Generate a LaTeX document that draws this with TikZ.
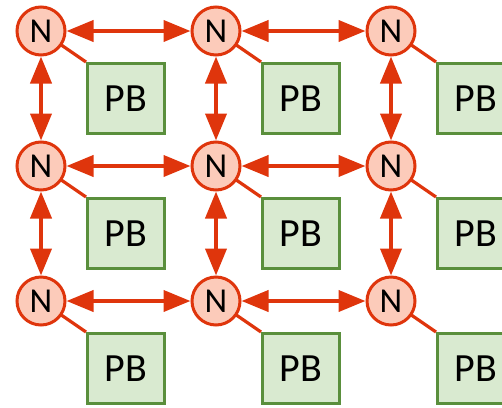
\documentclass[tikz,border=0pt]{standalone}
\usepackage{fontspec}
\setmainfont{Carlito}
\usetikzlibrary{arrows.meta}
\definecolor{linkred}{HTML}{DF350C}
\definecolor{nodefill}{HTML}{FCCBBA}
\definecolor{pbfill}{HTML}{D9EAD0}
\definecolor{pbdraw}{HTML}{5A8F3C}
\tikzset{
  router/.style={circle, draw=linkred, fill=nodefill, line width=3pt,
    minimum size=48pt, inner sep=0pt, font=\fontsize{35}{35}\selectfont},
  pbbox/.style={rectangle, draw=pbdraw, fill=pbfill, line width=3pt,
    minimum width=77pt, minimum height=70pt, inner sep=0pt,
    font=\fontsize{40}{40}\selectfont},
  link/.style={draw=linkred, line width=4pt,
    {Triangle[length=27pt,width=21pt]}-{Triangle[length=27pt,width=21pt]}},
  tie/.style={draw=linkred, line width=3.2pt}
}
\begin{document}
\begin{tikzpicture}[x=1pt,y=-1pt]
  \useasboundingbox (0,0) rectangle (502,407);
  % mesh of routers, each with its processing block
  \foreach \c/\x in {0/41,1/216,2/391}{
    \foreach \r/\y in {0/31,1/166,2/301}{
      \node[pbbox] (pb\c\r) at (\x+85,\y+67.5) {PB};
      \draw[tie] (\x,\y) ++(-34.6:24pt) -- (pb\c\r.north west);
      \node[router] (n\c\r) at (\x,\y) {N};
    }
  }
  % horizontal links
  \foreach \r in {0,1,2}{
    \draw[link] (n0\r) -- (n1\r);
    \draw[link] (n1\r) -- (n2\r);
  }
  % vertical links
  \foreach \c in {0,1,2}{
    \draw[link] (n\c0) -- (n\c1);
    \draw[link] (n\c1) -- (n\c2);
  }
\end{tikzpicture}
\end{document}
